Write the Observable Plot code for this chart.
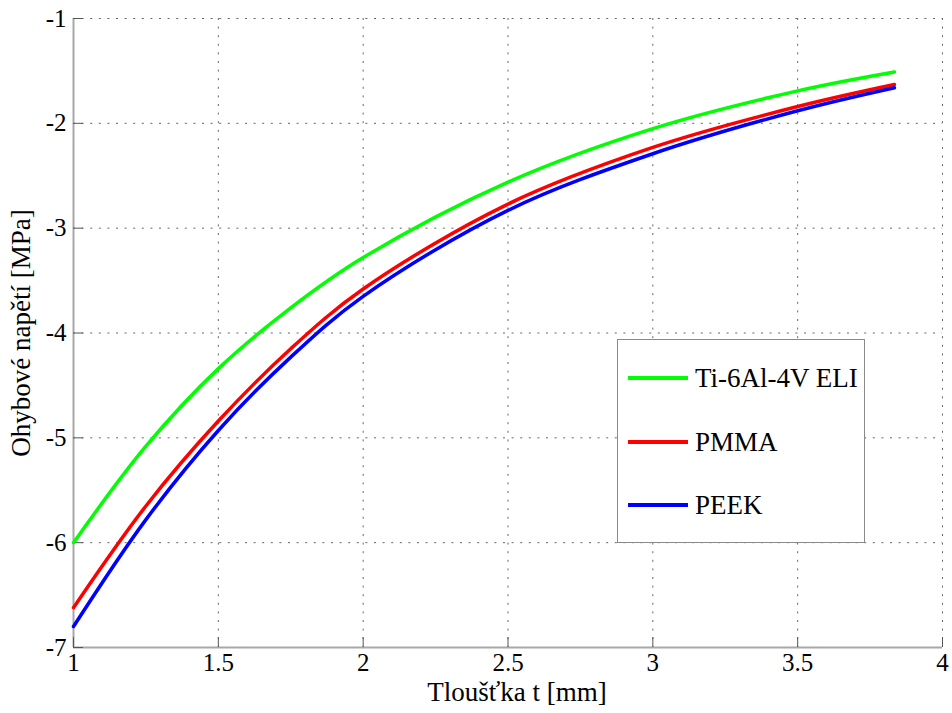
<!DOCTYPE html>
<html>
<head>
<meta charset="utf-8">
<script src="https://cdn.jsdelivr.net/npm/d3@7"></script>
<script src="https://cdn.jsdelivr.net/npm/@observablehq/plot@0.6"></script>
<style>
  html, body { margin: 0; padding: 0; background: #fff; }
  #wrap { position: relative; width: 952px; height: 713px; font-family: "Liberation Serif", "Times New Roman", serif; }
  #legend { position: absolute; left: 617px; top: 339px; width: 246px; height: 202px; border: 1.5px solid #8a8a8a; background: #fff; box-sizing: content-box; }
  .item { position: absolute; left: 10px; height: 30px; display: flex; align-items: center; }
  .sw { width: 60px; height: 3.5px; margin-right: 7px; }
  .lbl { font-size: 27px; color: #000; line-height: 30px; white-space: nowrap; font-family: "Liberation Serif", "Times New Roman", serif; }
</style>
</head>
<body>
<div id="wrap"></div>
<script>
const thickness = [1, 1.25, 1.5, 1.75, 2, 2.5, 3, 3.5, 3.834];
const tiValues   = [-6.00, -5.08, -4.34, -3.76, -3.28, -2.56, -2.05, -1.69, -1.51];
const pmmaValues = [-6.62, -5.65, -4.84, -4.15, -3.58, -2.77, -2.23, -1.84, -1.63];
const peekValues = [-6.80, -5.78, -4.93, -4.23, -3.65, -2.83, -2.29, -1.88, -1.66];
const seriesNames = ["Ti-6Al-4V ELI", "PMMA", "PEEK"];
const seriesColors = ["#00ff00", "#ff0000", "#0000ff"];
const xTicks = [1, 1.5, 2, 2.5, 3, 3.5, 4];
const yTicks = [-7, -6, -5, -4, -3, -2, -1];
const xLabel = "Tloušťka t [mm]";
const yLabel = "Ohybové napětí [MPa]";

const allValues = [tiValues, pmmaValues, peekValues];
const data = [];
seriesNames.forEach((name, i) => {
  thickness.forEach((t, j) => data.push({series: name, t, v: allValues[i][j]}));
});

const W = 952, H = 713, mL = 73, mR = 10, mT = 18, mB = 66;
const plotW = W - mL - mR, plotH = H - mT - mB;
const serif = "Liberation Serif, Times New Roman, serif";

const chart = Plot.plot({
  width: W, height: H,
  marginLeft: mL, marginRight: mR, marginTop: mT, marginBottom: mB,
  style: { fontFamily: serif, fontSize: "25px", color: "#000", background: "#fff" },
  x: { domain: [1, 4] },
  y: { domain: [-7, -1] },
  color: { domain: seriesNames, range: seriesColors },
  marks: [
    Plot.gridX(xTicks.filter(d => d > 1), { stroke: "#666", strokeOpacity: 1, strokeWidth: 1, strokeDasharray: "2,6.6" }),
    Plot.gridY(yTicks.filter(d => d > -7), { stroke: "#666", strokeOpacity: 1, strokeWidth: 1, strokeDasharray: "2,6.6" }),
    Plot.ruleX([1], { stroke: "#a8a8a8", strokeWidth: 2 }),
    Plot.ruleY([-7], { stroke: "#a8a8a8", strokeWidth: 2 }),
    Plot.tickX(xTicks, { x: d => d, insetTop: plotH - 10, stroke: "#555", strokeWidth: 1 }),
    Plot.tickY(yTicks, { y: d => d, insetRight: plotW - 10, stroke: "#555", strokeWidth: 1 }),
    Plot.axisX({ ticks: xTicks, tickSize: 0, tickPadding: 6, label: null, tickFormat: d => String(d), fontSize: 25, fontFamily: serif }),
    Plot.axisY({ ticks: yTicks, tickSize: 0, tickPadding: 7, label: null, tickFormat: d => String(d), fontSize: 25, fontFamily: serif }),
    Plot.line(data, { x: "t", y: "v", z: "series", stroke: "series", strokeWidth: 3.5, curve: "catmull-rom" }),
    Plot.text([xLabel], { frameAnchor: "bottom", dy: 45, dx: 9, lineAnchor: "middle", textAnchor: "middle", fontSize: 27, fontFamily: serif, fill: "#000" }),
    Plot.text([yLabel], { frameAnchor: "left", dx: -52, rotate: -90, lineAnchor: "middle", textAnchor: "middle", fontSize: 27, fontFamily: serif, fill: "#000" })
  ]
});

const wrap = document.getElementById("wrap");
wrap.appendChild(chart);

const legend = document.createElement("div");
legend.id = "legend";
const itemTops = [23, 87, 150];
seriesNames.forEach((name, i) => {
  const item = document.createElement("div");
  item.className = "item";
  item.style.top = itemTops[i] + "px";
  const sw = document.createElement("div");
  sw.className = "sw";
  sw.style.background = seriesColors[i];
  const lbl = document.createElement("span");
  lbl.className = "lbl";
  lbl.textContent = name;
  item.appendChild(sw);
  item.appendChild(lbl);
  legend.appendChild(item);
});
wrap.appendChild(legend);
</script>
</body>
</html>
